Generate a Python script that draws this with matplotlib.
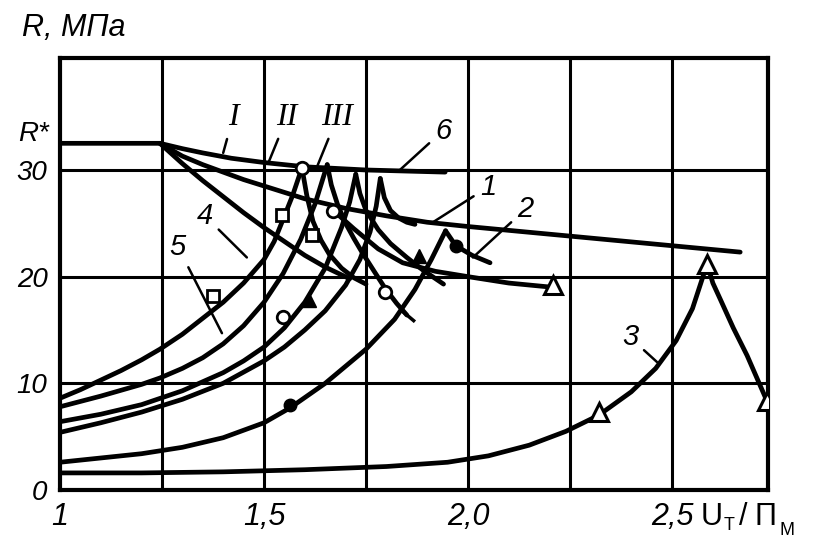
import matplotlib.pyplot as plt

plt.rcParams['font.family'] = ['Liberation Sans', 'DejaVu Sans']

# envelopes from the common start point
env1_x = [1.0, 1.245, 1.3, 1.35, 1.42, 1.5, 1.6, 1.75, 1.944]
env1_y = [32.5, 32.5, 32.0, 31.6, 31.1, 30.7, 30.3, 30.0, 29.8]
env2_x = [1.245, 1.3, 1.35, 1.4, 1.45, 1.5, 1.6, 1.7, 1.8, 1.9, 2.0, 2.25, 2.5, 2.667]
env2_y = [32.5, 31.3, 30.5, 29.8, 29.1, 28.5, 27.3, 26.4, 25.7, 25.1, 24.7, 23.8, 22.9, 22.3]
line4_x = [1.245, 1.3, 1.35, 1.4, 1.45, 1.5, 1.55, 1.6, 1.65, 1.71]
line4_y = [32.5, 30.6, 29.0, 27.5, 26.0, 24.6, 23.3, 22.0, 20.9, 19.8]

# rising branches (value at U/P = 1 up to the peak)
c1_x = [1.0, 1.05, 1.1, 1.15, 1.2, 1.245, 1.3, 1.35, 1.4, 1.45, 1.5, 1.525, 1.545, 1.57, 1.593]
c1_y = [8.6, 9.4, 10.3, 11.2, 12.2, 13.2, 14.6, 16.1, 17.6, 19.4, 21.6, 23.3, 25.2, 27.6, 30.2]
c2_x = [1.0, 1.1, 1.2, 1.245, 1.3, 1.35, 1.4, 1.45, 1.5, 1.547, 1.59, 1.625, 1.655]
c2_y = [7.8, 8.8, 9.9, 10.5, 11.4, 12.4, 13.7, 15.4, 17.6, 20.3, 23.5, 26.8, 30.5]
c3_x = [1.0, 1.1, 1.2, 1.3, 1.4, 1.45, 1.5, 1.55, 1.6, 1.65, 1.69, 1.71, 1.725]
c3_y = [6.4, 7.1, 8.0, 9.3, 11.0, 12.1, 13.4, 15.2, 17.6, 20.8, 24.6, 27.0, 29.6]
c4_x = [1.0, 1.1, 1.2, 1.3, 1.4, 1.5, 1.55, 1.6, 1.65, 1.7, 1.735, 1.76, 1.775, 1.785]
c4_y = [5.4, 6.3, 7.3, 8.5, 10.0, 12.1, 13.4, 15.0, 16.8, 19.2, 21.6, 24.2, 26.6, 29.2]
c6_x = [1.0, 1.1, 1.2, 1.3, 1.4, 1.5, 1.564, 1.65, 1.75, 1.82, 1.87, 1.91, 1.945]
c6_y = [2.6, 3.0, 3.4, 4.0, 4.9, 6.3, 7.7, 10.0, 13.2, 16.0, 18.8, 21.6, 24.3]

# falling branches after the peaks
d1_x = [1.593, 1.605, 1.62, 1.64, 1.66, 1.69, 1.72, 1.75]
d1_y = [30.2, 27.6, 25.2, 23.4, 22.1, 20.8, 19.9, 19.3]
d2_x = [1.655, 1.665, 1.68, 1.70, 1.72, 1.74, 1.77, 1.797, 1.825, 1.85]
d2_y = [30.5, 28.6, 26.8, 25.0, 23.6, 22.3, 20.5, 18.9, 17.5, 16.4]
d3_x = [1.725, 1.735, 1.75, 1.78, 1.81, 1.85, 1.89, 1.94]
d3_y = [29.6, 27.8, 26.2, 24.4, 23.1, 21.8, 20.6, 19.3]
d4_x = [1.785, 1.795, 1.81, 1.83, 1.85, 1.87]
d4_y = [29.2, 27.4, 26.2, 25.5, 25.1, 24.9]
d6_x = [1.945, 1.97, 2.01, 2.054]
d6_y = [24.3, 22.9, 22.0, 21.3]
cur2_x = [1.67, 1.72, 1.78, 1.84, 1.92, 2.0, 2.1, 2.208]
cur2_y = [26.2, 24.5, 22.6, 21.3, 20.5, 20.0, 19.4, 19.0]

# curve 3
c3r_x = [1.0, 1.2, 1.4, 1.6, 1.8, 1.95, 2.05, 2.15, 2.24, 2.32, 2.40, 2.46, 2.51, 2.55, 2.586]
c3r_y = [1.6, 1.6, 1.7, 1.9, 2.2, 2.6, 3.2, 4.2, 5.5, 7.0, 9.2, 11.4, 14.0, 17.0, 21.2]
c3f_x = [2.586, 2.60, 2.618, 2.65, 2.684, 2.733]
c3f_y = [21.2, 19.4, 17.9, 15.2, 12.6, 8.3]

# point symbols
circ_x = [1.593, 1.67, 1.547, 1.797]
circ_y = [30.2, 26.2, 16.2, 18.6]
sq_x = [1.375, 1.544, 1.618]
sq_y = [18.2, 25.8, 23.9]
tri_x = [2.208, 2.32, 2.586, 2.733]
tri_y = [19.2, 7.3, 21.2, 8.3]
dot_x = [1.564, 1.97]
dot_y = [8.0, 22.9]
ftri_x = [1.88, 1.61]
ftri_y = [21.9, 17.8]
tick_x = [1.85]
tick_y = [16.4]

# curve labels: text, text position, point on the curve
labels = ['I', 'II', 'III', '6', '1', '2', '4', '5', '3']
lab_x = [1.424, 1.556, 1.679, 1.939, 2.049, 2.14, 1.355, 1.289, 2.397]
lab_y = [34.9, 34.9, 34.9, 33.7, 28.4, 26.3, 25.7, 22.8, 14.3]
tgt_x = [1.40, 1.51, 1.63, 1.833, 1.914, 2.012, 1.458, 1.397, 2.463]
tgt_y = [31.6, 30.6, 30.3, 30.0, 25.1, 21.8, 21.8, 14.7, 12.0]

r_star = 32.5

fig = plt.figure(figsize=(8.18, 5.46), dpi=100)
ax = fig.add_axes([0.0733, 0.1026, 0.8655, 0.7912])
ax.set_xlim(1, 2.735)
ax.set_ylim(0, 40.5)

for v in [1.25, 1.5, 1.75, 2.0, 2.25, 2.5]:
    ax.axvline(v, color='black', lw=2.2, zorder=1)
for v in [10, 20, 30]:
    ax.axhline(v, color='black', lw=2.2, zorder=1)

lw = 3.4
for xs, ys in [(env1_x, env1_y), (env2_x, env2_y), (line4_x, line4_y),
               (c1_x, c1_y), (c2_x, c2_y), (c3_x, c3_y), (c4_x, c4_y), (c6_x, c6_y),
               (d1_x, d1_y), (d2_x, d2_y), (d3_x, d3_y), (d4_x, d4_y), (d6_x, d6_y),
               (cur2_x, cur2_y), (c3r_x, c3r_y), (c3f_x, c3f_y)]:
    ax.plot(xs, ys, color='black', lw=lw, solid_capstyle='round',
            solid_joinstyle='round', zorder=2)

ax.plot(circ_x, circ_y, 'o', ms=9, mfc='white', mec='black', mew=2, zorder=3)
ax.plot(sq_x, sq_y, 's', ms=8, mfc='white', mec='black', mew=2, zorder=3)
ax.plot(tri_x, tri_y, '^', ms=13, mfc='white', mec='black', mew=2.2, zorder=3)
ax.plot(dot_x, dot_y, 'o', ms=9, color='black', zorder=3)
ax.plot(ftri_x, ftri_y, '^', ms=10, color='black', zorder=3)
ax.plot(tick_x, tick_y, marker=(2, 0, 50), ms=14, mew=2.5, color='black', zorder=3)

for t, x, y, tx, ty in zip(labels, lab_x, lab_y, tgt_x, tgt_y):
    roman = t.startswith('I')
    ax.annotate(t, xy=(tx, ty), xytext=(x, y), ha='center', va='center',
                fontsize=23 if roman else 21, style='italic',
                family=['Liberation Serif'] if roman else ['Liberation Sans'],
                arrowprops=dict(arrowstyle='-', lw=1.8, color='black', shrinkA=3, shrinkB=0),
                zorder=4)

for s in ax.spines.values():
    s.set_linewidth(3)

ax.set_xticks([1, 1.5, 2.0, 2.5])
ax.set_xticklabels(['1', '1,5', '2,0', '2,5'], fontsize=22, style='italic')
ax.set_yticks([0, 10, 20, 30])
ax.set_yticklabels(['0', '10', '20', '30'], fontsize=20, style='italic')
ax.tick_params(length=0, pad=9)
ax.text(-0.016, r_star + 0.9, 'R*', transform=ax.get_yaxis_transform(),
        ha='right', va='center', fontsize=20, style='italic')

fig.text(0.027, 0.949, 'R, МПа', fontsize=22, style='italic', va='center')
fig.text(0.856, 0.053, 'U', fontsize=22, va='center')
fig.text(0.885, 0.037, 'Т', fontsize=13, va='center')
fig.text(0.903, 0.053, '/', fontsize=22, va='center')
fig.text(0.922, 0.053, 'П', fontsize=22, va='center')
fig.text(0.953, 0.028, 'М', fontsize=13, va='center')

fig.savefig('out.png', dpi=100)
